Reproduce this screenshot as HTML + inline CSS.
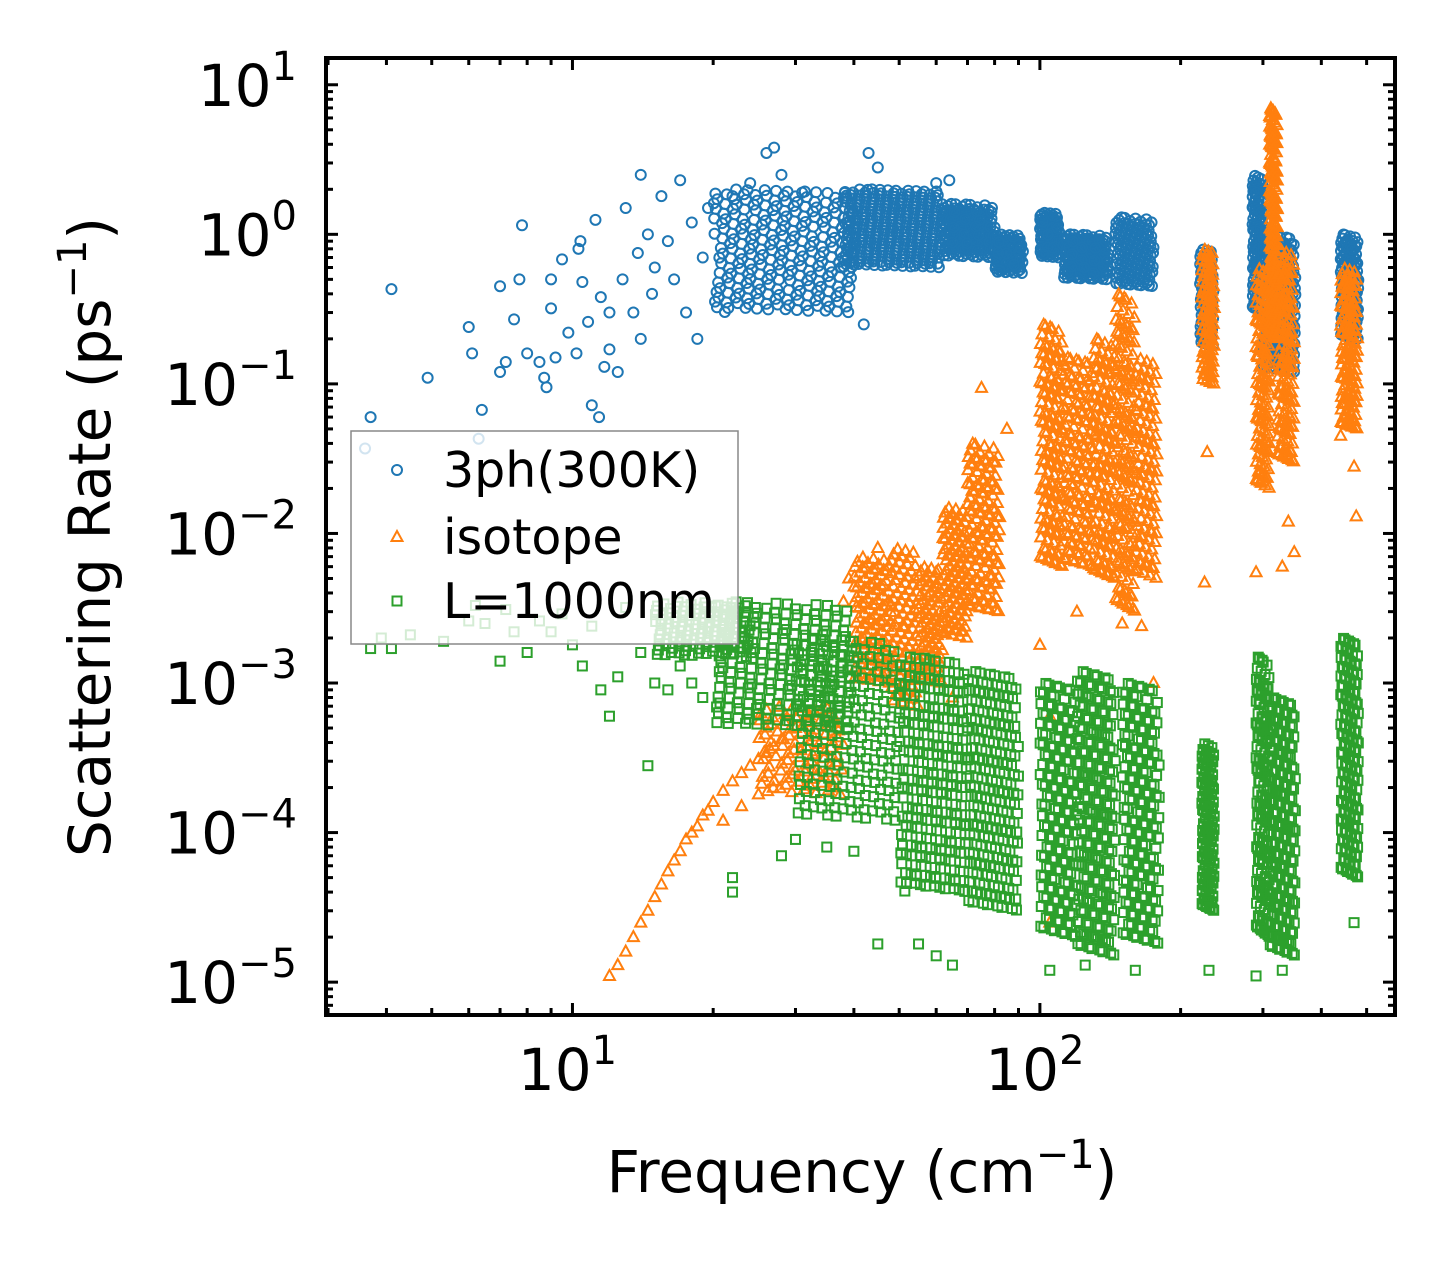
<!DOCTYPE html>
<html><head><meta charset="utf-8"><style>
html,body{margin:0;padding:0;background:#fff;}
svg{display:block;font-family:"DejaVu Sans","Liberation Sans",sans-serif;}
</style></head><body>
<svg id="chart" width="1455" height="1265" viewBox="0 0 1455 1265">
<g id="marks"></g>
<g id="axes"></g>
</svg>
<script>
// ---- data ----
const xDomain = [2.97, 575];
const yDomain = [0.00000603, 15.1];
const xTickValues = [10, 100];
const xTickLabels = ["10", "10"];
const xTickExps = ["1", "2"];
const yTickValues = [10, 1, 0.1, 0.01, 0.001, 0.0001, 0.00001];
const yTickExps = ["1", "0", "\u22121", "\u22122", "\u22123", "\u22124", "\u22125"];
const seriesNames = ["3ph(300K)", "isotope", "L=1000nm"];
const seriesColors = ["#1f77b4", "#ff7f0e", "#2ca02c"];

// explicit sparse points [frequency, rate]
const phononPoints = [[4.1,0.43],[3.7,0.06],[3.6,0.037],[4.9,0.11],[6,0.24],[6.1,0.16],[6.3,0.043],[6.4,0.067],[7,0.45],[7,0.12],[7.2,0.14],[7.5,0.27],[7.7,0.5],[7.8,1.15],[8,0.16],[8.5,0.14],[8.7,0.11],[8.8,0.095],[9,0.32],[9,0.5],[9.2,0.15],[9.5,0.68],[9.8,0.22],[10.2,0.16],[10.3,0.8],[10.4,0.9],[10.5,0.48],[10.8,0.26],[11,0.072],[11.2,1.25],[11.4,0.06],[11.5,0.38],[11.7,0.13],[12,0.17],[12,0.3],[12.5,0.12],[12.8,0.5],[13,1.5],[13.5,0.3],[13.8,0.75],[14,2.5],[14,0.2],[14.5,1.0],[14.8,0.4],[15,0.6],[15.5,1.8],[16,0.9],[16.5,0.5],[17,2.3],[17.5,0.3],[18,1.2],[18.5,0.2],[19,0.7],[19.5,1.5],[22,1.8],[24,2.2],[26,3.5],[27,3.8],[28,2.5],[31,1.9],[43,3.5],[42,0.25],[45,2.8],[60,2.2],[64,2.3]];
const isotopePoints = [[12,0.000011],[12.5,0.000013],[13,0.000016],[13.5,0.00002],[14,0.000025],[14.5,0.00003],[15,0.000037],[15.5,0.000045],[16,0.000055],[16.5,0.000065],[17,0.000075],[17.5,0.00009],[18,0.0001],[18.5,0.00011],[19,0.00013],[19.5,0.00014],[20,0.00016],[21,0.00019],[22,0.00022],[23,0.00025],[24,0.00028],[25,0.00031],[26,0.00034],[27,0.00038],[28,0.00042],[30,0.0005],[32,0.00058],[34,0.00065],[21,0.00012],[23,0.00015],[25,0.00018],[27,0.00022],[30,0.00026],[33,0.00035],[36,0.0002],[38,0.0035],[39,0.005],[45,0.008],[60,0.0055],[65,0.0008],[75,0.094],[85,0.05],[100,0.0018],[105,0.0006],[120,0.003],[150,0.0025],[165,0.0024],[175,0.001],[225,0.0047],[228,0.035],[290,0.0055],[330,0.006],[340,0.012],[350,0.0075],[440,0.045],[470,0.028],[475,0.013],[105,0.000025]];
const lengthPoints = [[3.7,0.0017],[4.1,0.0017],[3.9,0.002],[4.5,0.0021],[5.3,0.0019],[6,0.0026],[6.2,0.0033],[6.5,0.0025],[7,0.0014],[7.2,0.0031],[7.5,0.0022],[8,0.0016],[8.5,0.0026],[9,0.0022],[9.5,0.0029],[10,0.0018],[10.5,0.0013],[11,0.0024],[11.5,0.0009],[12,0.0006],[12.5,0.0011],[13,0.0032],[14,0.0016],[14.5,0.00028],[15,0.001],[16,0.0009],[17,0.0013],[18,0.001],[19,0.0008],[22,0.00005],[22,0.00004],[28,0.00007],[30,0.00009],[35,0.00008],[40,0.000075],[45,0.000018],[55,0.000018],[60,0.000015],[65,0.000013],[105,0.000012],[125,0.000013],[160,0.000012],[230,0.000012],[290,0.000011],[330,0.000012],[470,0.000025]];

// dense clusters [freqLo, freqHi, rateLo, rateHi, count]
const phononBands = [[20,40,0.3,2.0,260],[38,62,0.6,2.0,320],[62,80,0.7,1.6,150],[80,92,0.55,1.0,90],[100,110,0.7,1.4,90],[112,140,0.5,1.0,150],[145,175,0.45,1.3,140],[220,235,0.18,0.8,90],[285,300,0.3,2.5,130],[300,352,0.12,1.0,220],[440,480,0.2,1.0,140]];
const isotopeBands = [[25,38,0.00018,0.0007,90],[40,48,0.001,0.007,120],[48,55,0.0007,0.008,90],[55,62,0.001,0.006,80],[62,70,0.002,0.015,110],[70,82,0.003,0.04,140],[100,112,0.006,0.25,150],[112,130,0.006,0.15,160],[130,145,0.005,0.2,140],[145,160,0.003,0.4,150],[160,178,0.005,0.15,110],[222,236,0.1,0.8,90],[290,310,0.02,0.6,120],[310,322,0.2,7,160],[322,350,0.03,0.8,140],[440,478,0.05,0.6,130]];
const lengthBands = [[15,24,0.0015,0.0035,120],[20,40,0.0005,0.0035,220],[30,50,0.00012,0.002,200],[50,70,0.00004,0.0015,230],[70,90,0.00003,0.0012,200],[100,120,0.00002,0.001,170],[120,145,0.000015,0.0012,190],[150,180,0.000018,0.001,170],[222,236,0.00003,0.0004,130],[290,310,0.00002,0.0015,150],[310,352,0.000015,0.0008,190],[440,480,0.00005,0.002,170]];

// ---- scales ----
const X0=326, X1=1395, Y0=58, Y1=1015;
const lx0=Math.log10(xDomain[0]), lx1=Math.log10(xDomain[1]);
const ly0=Math.log10(yDomain[0]), ly1=Math.log10(yDomain[1]);
function sx(v){return X0+(Math.log10(v)-lx0)/(lx1-lx0)*(X1-X0);}
function sy(v){return Y1-(Math.log10(v)-ly0)/(ly1-ly0)*(Y1-Y0);}
const NS="http://www.w3.org/2000/svg";
function mk(tag,attrs,parent){const e=document.createElementNS(NS,tag);for(const k in attrs)e.setAttribute(k,attrs[k]);parent.appendChild(e);return e;}

function bandPoints(bands){
  const out=[];
  bands.forEach(b=>{
    const a=Math.log10(b[0]),c=Math.log10(b[1]),d=Math.log10(b[2]),f=Math.log10(b[3]);
    for(let i=0;i<b[4];i++){
      const u=(i*0.7548777+0.5)%1, w=(i*0.5698403+0.5)%1;
      out.push([Math.pow(10,a+(c-a)*u),Math.pow(10,d+(f-d)*w)]);
    }
  });
  return out;
}
const marks=document.getElementById('marks');
function drawMarker(kind,x,y,color,g,name){
  let e;
  if(kind===0) e=mk('circle',{cx:x,cy:y,r:5,fill:'none',stroke:color,'stroke-width':2},g);
  else if(kind===1) e=mk('path',{d:`M${x},${y-6}L${x+5.5},${y+4}L${x-5.5},${y+4}Z`,fill:'none',stroke:color,'stroke-width':2},g);
  else e=mk('rect',{x:x-4.5,y:y-4.5,width:9,height:9,fill:'none',stroke:color,'stroke-width':2},g);
  
  
}
const allSeries=[phononPoints.concat(bandPoints(phononBands)),isotopePoints.concat(bandPoints(isotopeBands)),lengthPoints.concat(bandPoints(lengthBands))];
const markNames=['phonon-point','isotope-point','boundary-point'];
allSeries.forEach((pts,k)=>{
  const g=mk('g',{},marks);
  
  
  pts.forEach(p=>{
    if(p[0]<xDomain[0]||p[0]>xDomain[1])return;
    drawMarker(k,sx(p[0]),sy(p[1]),seriesColors[k],g,markNames[k]);
  });
});

// ---- legend ----
const leg=mk('g',{},marks);


mk('rect',{x:351,y:431,width:387,height:213,fill:'#fff','fill-opacity':0.8,stroke:'#888','stroke-width':1.5},leg);
[470,537,601].forEach((yy,k)=>{
  drawMarker(k,397,yy,seriesColors[k],leg,'legend-marker');
  const t=mk('text',{x:443,y:yy+17,'font-size':49,fill:'#000'},leg);
  t.textContent=seriesNames[k];
  
  
});

// ---- axes ----
const ax=document.getElementById('axes');
mk('rect',{x:X0,y:Y0,width:X1-X0,height:Y1-Y0,fill:'none',stroke:'#000','stroke-width':4},ax);
for(let d=0;d<=3;d++){for(let m=1;m<=9;m++){
  const v=m*Math.pow(10,d); if(v<xDomain[0]||v>xDomain[1])continue;
  const x=sx(v), L=m===1?12:7;
  mk('line',{x1:x,y1:Y1,x2:x,y2:Y1-L,stroke:'#000','stroke-width':3},ax);
  mk('line',{x1:x,y1:Y0,x2:x,y2:Y0+L,stroke:'#000','stroke-width':3},ax);
}}
for(let d=-6;d<=1;d++){for(let m=1;m<=9;m++){
  const v=m*Math.pow(10,d); if(v<yDomain[0]||v>yDomain[1])continue;
  const y=sy(v), L=m===1?12:7;
  mk('line',{x1:X0,y1:y,x2:X0+L,y2:y,stroke:'#000','stroke-width':3},ax);
  mk('line',{x1:X1,y1:y,x2:X1-L,y2:y,stroke:'#000','stroke-width':3},ax);
}}
xTickValues.forEach((v,i)=>{
  const t=mk('text',{x:sx(v)-5,y:1090,'font-size':58,'text-anchor':'middle'},ax);
  
  
  t.textContent=xTickLabels[i];
  const s=mk('tspan',{dy:-26,'font-size':40},t); s.textContent=xTickExps[i];
});
yTickValues.forEach((v,i)=>{
  const y=sy(v);
  const t=mk('text',{x:297,y:y+21,'font-size':58,'text-anchor':'end'},ax);
  
  
  t.textContent='10';
  const s=mk('tspan',{dy:-26,'font-size':40},t);
  s.textContent=yTickExps[i];
});
const xt=mk('text',{x:862,y:1192,'font-size':58,'text-anchor':'middle'},ax);


xt.innerHTML='Frequency (cm<tspan dy="-24" font-size="40">\u22121</tspan><tspan dy="24">)</tspan>';
const yt=mk('text',{x:0,y:0,'font-size':58,'text-anchor':'middle',transform:'translate(110,537) rotate(-90)'},ax);


yt.innerHTML='Scattering Rate (ps<tspan dy="-24" font-size="40">\u22121</tspan><tspan dy="24">)</tspan>';
</script>
</body></html>
